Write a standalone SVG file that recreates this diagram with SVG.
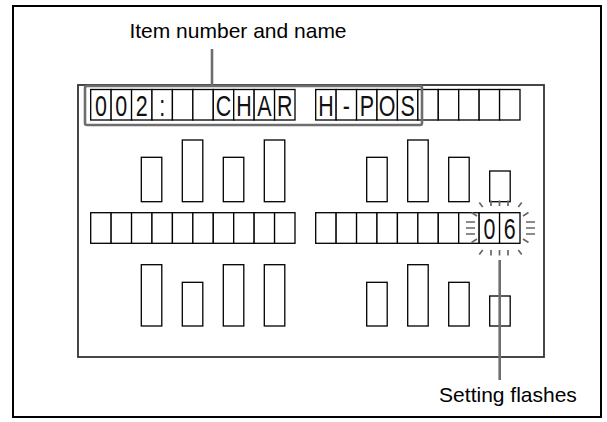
<svg xmlns="http://www.w3.org/2000/svg" width="607" height="422" viewBox="0 0 607 422">
<style>
.cell{fill:#fff;stroke:#000;stroke-width:1.3}
.bar{fill:#fff;stroke:#000;stroke-width:1.3}
.ch{font-family:"Liberation Sans",Arial,sans-serif;font-size:29px;fill:#111;text-anchor:middle}
.lbl{font-family:"Liberation Sans",Arial,sans-serif;font-size:21px;fill:#000;text-anchor:middle}
.lead{stroke:#6e6e6e;stroke-width:2.6;fill:none}
.tick{stroke:#666;stroke-width:1.7;fill:none}
</style>
<rect x="13" y="6" width="588" height="411" fill="#fff" stroke="#000" stroke-width="2"/>
<g id="display">
<rect x="78" y="85" width="466" height="272" fill="#fff" stroke="#333" stroke-width="1.8"/>
</g>
<g id="row1">
<rect class="cell" x="90.7" y="89.5" width="20.43" height="30.5"/>
<rect class="cell" x="111.13" y="89.5" width="20.43" height="30.5"/>
<rect class="cell" x="131.56" y="89.5" width="20.43" height="30.5"/>
<rect class="cell" x="151.99" y="89.5" width="20.43" height="30.5"/>
<rect class="cell" x="172.42" y="89.5" width="20.43" height="30.5"/>
<rect class="cell" x="192.85" y="89.5" width="20.43" height="30.5"/>
<rect class="cell" x="213.28" y="89.5" width="20.43" height="30.5"/>
<rect class="cell" x="233.71" y="89.5" width="20.43" height="30.5"/>
<rect class="cell" x="254.14" y="89.5" width="20.43" height="30.5"/>
<rect class="cell" x="274.57" y="89.5" width="20.43" height="30.5"/>
<rect class="cell" x="315.7" y="89.5" width="20.43" height="30.5"/>
<rect class="cell" x="336.13" y="89.5" width="20.43" height="30.5"/>
<rect class="cell" x="356.56" y="89.5" width="20.43" height="30.5"/>
<rect class="cell" x="376.99" y="89.5" width="20.43" height="30.5"/>
<rect class="cell" x="397.42" y="89.5" width="20.43" height="30.5"/>
<rect class="cell" x="417.85" y="89.5" width="20.43" height="30.5"/>
<rect class="cell" x="438.28" y="89.5" width="20.43" height="30.5"/>
<rect class="cell" x="458.71" y="89.5" width="20.43" height="30.5"/>
<rect class="cell" x="479.14" y="89.5" width="20.43" height="30.5"/>
<rect class="cell" x="499.57" y="89.5" width="20.43" height="30.5"/>
<text class="ch" transform="translate(100.9,115.5) scale(0.74,1)">0</text>
<text class="ch" transform="translate(121.3,115.5) scale(0.74,1)">0</text>
<text class="ch" transform="translate(141.8,115.5) scale(0.74,1)">2</text>
<text class="ch" transform="translate(162.2,115.5) scale(0.74,1)">:</text>
<text class="ch" transform="translate(223.5,115.5) scale(0.74,1)">C</text>
<text class="ch" transform="translate(243.9,115.5) scale(0.74,1)">H</text>
<text class="ch" transform="translate(264.4,115.5) scale(0.74,1)">A</text>
<text class="ch" transform="translate(284.8,115.5) scale(0.74,1)">R</text>
<text class="ch" transform="translate(325.9,115.5) scale(0.74,1)">H</text>
<text class="ch" transform="translate(346.3,115.5) scale(0.74,1)">-</text>
<text class="ch" transform="translate(366.8,115.5) scale(0.74,1)">P</text>
<text class="ch" transform="translate(387.2,115.5) scale(0.74,1)">O</text>
<text class="ch" transform="translate(407.6,115.5) scale(0.74,1)">S</text>
</g>
<g id="upper-bars">
<rect class="bar" x="141.3" y="157.3" width="20.5" height="44.4"/>
<rect class="bar" x="182.3" y="140" width="20.5" height="61.7"/>
<rect class="bar" x="223.3" y="157.3" width="20.5" height="44.4"/>
<rect class="bar" x="264.3" y="140" width="20.5" height="61.7"/>
<rect class="bar" x="366.7" y="157.3" width="20.5" height="44.4"/>
<rect class="bar" x="407.7" y="140" width="20.5" height="61.7"/>
<rect class="bar" x="448.7" y="157.3" width="20.5" height="44.4"/>
<rect class="bar" x="489.7" y="171" width="20.5" height="30.7"/>
</g>
<g id="row2">
<rect class="cell" x="90.7" y="212.7" width="20.43" height="30.6"/>
<rect class="cell" x="111.13" y="212.7" width="20.43" height="30.6"/>
<rect class="cell" x="131.56" y="212.7" width="20.43" height="30.6"/>
<rect class="cell" x="151.99" y="212.7" width="20.43" height="30.6"/>
<rect class="cell" x="172.42" y="212.7" width="20.43" height="30.6"/>
<rect class="cell" x="192.85" y="212.7" width="20.43" height="30.6"/>
<rect class="cell" x="213.28" y="212.7" width="20.43" height="30.6"/>
<rect class="cell" x="233.71" y="212.7" width="20.43" height="30.6"/>
<rect class="cell" x="254.14" y="212.7" width="20.43" height="30.6"/>
<rect class="cell" x="274.57" y="212.7" width="20.43" height="30.6"/>
<rect class="cell" x="315.7" y="212.7" width="20.43" height="30.6"/>
<rect class="cell" x="336.13" y="212.7" width="20.43" height="30.6"/>
<rect class="cell" x="356.56" y="212.7" width="20.43" height="30.6"/>
<rect class="cell" x="376.99" y="212.7" width="20.43" height="30.6"/>
<rect class="cell" x="397.42" y="212.7" width="20.43" height="30.6"/>
<rect class="cell" x="417.85" y="212.7" width="20.43" height="30.6"/>
<rect class="cell" x="438.28" y="212.7" width="20.43" height="30.6"/>
<rect class="cell" x="458.71" y="212.7" width="20.43" height="30.6"/>
<rect class="cell" x="479.14" y="212.7" width="20.43" height="30.6"/>
<rect class="cell" x="499.57" y="212.7" width="20.43" height="30.6"/>
<text class="ch" transform="translate(489.4,238.5) scale(0.74,1)">0</text>
<text class="ch" transform="translate(509.8,238.5) scale(0.74,1)">6</text>
</g>
<g id="flash-marks">
<path class="tick" d="M479.3 202.5L482.7 207 M491 200.5V206 M499.5 200.5V206 M508 200.5V206 M521.7 202.5L518.3 207"/>
<path class="tick" d="M479.3 254.5L482.7 250 M491 250V255.5 M499.5 250V255.5 M508 250V255.5 M521.7 254.5L518.3 250"/>
<path class="tick" d="M471.5 212.5L477 216 M466 222H475 M466 228H475 M466 234H475 M471.5 242.5L477 239"/>
<path class="tick" d="M528.5 212.5L523 216 M526 222H535 M526 228H535 M526 234H535 M528.5 242.5L523 239"/>
</g>
<g id="lower-bars">
<rect class="bar" x="141.3" y="264.7" width="20.5" height="61.3"/>
<rect class="bar" x="182.3" y="282.3" width="20.5" height="43.7"/>
<rect class="bar" x="223.3" y="264.7" width="20.5" height="61.3"/>
<rect class="bar" x="264.3" y="264.7" width="20.5" height="61.3"/>
<rect class="bar" x="366.7" y="282.3" width="20.5" height="43.7"/>
<rect class="bar" x="407.7" y="264.7" width="20.5" height="61.3"/>
<rect class="bar" x="448.7" y="282.3" width="20.5" height="43.7"/>
<rect class="bar" x="489.7" y="296" width="20.5" height="30"/>
</g>
<g id="item-highlight">
<rect x="85" y="86" width="337" height="39" rx="2" fill="none" stroke="#6e6e6e" stroke-width="2.6"/>
</g>
<g id="connectors">
<line class="lead" x1="212" y1="49" x2="212" y2="86"/>
<line class="lead" x1="499.7" y1="260" x2="499.7" y2="380"/>
</g>
<g id="label-item">
<text class="lbl" x="238" y="38">Item number and name</text>
</g>
<g id="label-setting">
<text class="lbl" x="508" y="402">Setting flashes</text>
</g>
</svg>
